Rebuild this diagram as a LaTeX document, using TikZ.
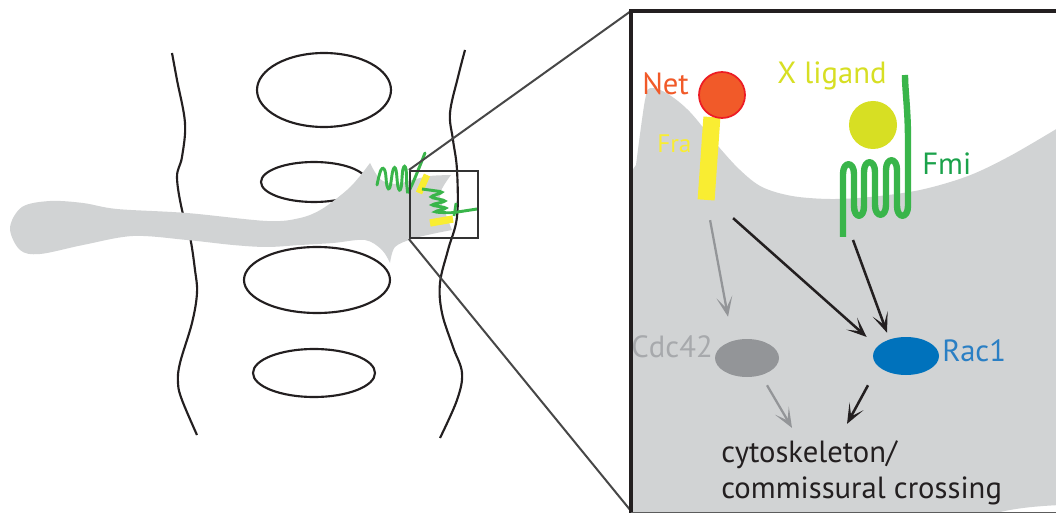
\documentclass[tikz,border=0pt]{standalone}
\usepackage{fontspec}
\setmainfont{PT Sans}
\usetikzlibrary{arrows.meta,shapes.geometric}

\definecolor{membrane}{HTML}{D1D3D4}
\definecolor{ink}{HTML}{231F20}
\definecolor{frame}{HTML}{333333}
\definecolor{netfill}{HTML}{F15A29}
\definecolor{netedge}{HTML}{ED1C24}
\definecolor{frayellow}{HTML}{F9ED32}
\definecolor{ligand}{HTML}{D7DF23}
\definecolor{fmigreen}{HTML}{39B54A}
\definecolor{fmitext}{HTML}{1BA24B}
\definecolor{cdcgray}{HTML}{939598}
\definecolor{cdctext}{HTML}{A7A9AC}
\definecolor{racblue}{HTML}{0072BC}
\definecolor{ractext}{HTML}{2A7FC4}

\begin{document}
\begin{tikzpicture}[x=0.75pt,y=-0.75pt,
  outline/.style={draw=ink,line width=1.6pt},
  label/.style={inner sep=0pt,font=\fontsize{23}{27}\selectfont},
  smalllabel/.style={inner sep=0pt,font=\fontsize{19}{22}\selectfont},
  darrow/.style={draw=ink,line width=1.9pt,-{Stealth[length=15pt,width=12pt,inset=8.5pt]}},
  garrow/.style={draw=cdcgray,line width=1.7pt,-{Stealth[length=15pt,width=12pt,inset=8.5pt]}},
  zoomline/.style={draw=frame!90,line width=1.5pt},
]
\useasboundingbox (0,0) rectangle (1056,513);
\fill[white] (0,0) rectangle (1056,513);

% ---------- overview: spinal cord outline and commissures ----------
\draw[outline] plot[smooth,tension=0.6] coordinates {(172,53) (177,80) (185,123) (182,157) (177,177) (182,210) (190,237) (195,270) (197,293) (192,323) (180,363) (178,383) (182,400) (197,435)};

\draw[outline] (324,90) ellipse[x radius=67,y radius=37];
\draw[outline] (314,182) ellipse[x radius=53,y radius=20];
\draw[outline] (317,280) ellipse[x radius=73,y radius=33];
\draw[outline] (314,373) ellipse[x radius=61,y radius=24];

% axon with growth cone
\fill[membrane] plot[smooth,tension=0.55] coordinates {(370,163) (360,176) (347,190) (322,209) (300,218) (267,221) (187,213) (117,209) (83,203) (50,201) (22,207) (10,228) (20,250) (40,254) (83,245) (133,236) (187,240) (233,245) (267,247) (300,245) (333,243) (365,240) (382,250) (390,263)}
  -- plot[smooth,tension=0.55] coordinates {(390,263) (395,247) (412,239) (432,234) (452,230)}
  -- plot[smooth,tension=0.6] coordinates {(452,230) (445,212) (440,194) (451,175)}
  -- plot[smooth,tension=0.55] coordinates {(451,175) (430,176) (412,180) (395,184) (380,179) (370,163)}
  -- cycle;

\draw[outline] plot[smooth,tension=0.6] coordinates {(465,50) (458,77) (450,113) (453,140) (457,170) (457,217) (448,250) (440,283) (442,313) (453,347) (462,373) (457,400) (440,438)};

% receptors on the growth cone
\draw[fmigreen,line width=2.2pt,line cap=round] plot[smooth,tension=0.7] coordinates {(377,185) (381,170) (385,171) (387,186) (390,187) (393,170) (396,170) (398,187) (401,188) (403,169) (406,169) (407,187) (410,189) (425,153)};
\draw[frayellow,line width=5pt] (427,175) -- (419,193);
\draw[fmigreen,line width=2.2pt,rounded corners=3pt] (422,189) -- (444,192) -- (429,197) -- (447,201) -- (430,205) -- (448,208) -- (433,212) -- (451,213) -- (477,209);
\draw[fmigreen,line width=2pt] (456,203) -- (454,216);
\draw[frayellow,line width=5.5pt] (430,223) -- (453,219);

% magnified region and its projection
\node[draw=frame,line width=1.6pt,minimum width=51pt,minimum height=50.25pt,inner sep=0pt] (box) at (444,204.5) {};
\coordinate (panelNW) at (631,11);
\coordinate (panelSW) at (631,511);
\draw[zoomline] (box.north west) -- (panelNW);
\draw[zoomline] (box.south west) -- (panelSW);

% ---------- magnified panel ----------
\fill[white] (631,11) rectangle (1060,515);
\fill[membrane] (631,515) -- (631,172) -- plot[smooth,tension=0.55] coordinates {(636,165) (645,100) (651,88) (668,94) (690,112) (718,146) (740,170) (762,187) (792,196) (830,199) (870,197) (920,190) (968,176) (1010,156) (1058,128)} -- (1060,128) -- (1060,505) .. controls (1040,506) and (1010,508) .. (990,515) -- cycle;
\draw[ink,line width=2.5pt] (1060,11) -- (631,11) -- (631,515);
\draw[frame!80,line width=1.2pt] (631,512.5) -- (1060,512.5);

% Frazzled with Netrin
\node[fill=frayellow,minimum width=12.75pt,minimum height=62.25pt,inner sep=0pt,rotate=-4] (fra) at (709,158.5) {};
\node[circle,fill=netfill,draw=netedge,line width=1.3pt,minimum size=34.5pt,inner sep=0pt] (net) at (722,95) {};
\node[smalllabel,text=frayellow,anchor=base west] (fralabel) at (657,153) {Fra};
\node[label,text=netfill,anchor=base west] (netlabel) at (642,95) {Net};

% Flamingo with its ligand
\node[circle,fill=ligand,minimum size=36pt,inner sep=0pt] (xlig) at (873,125) {};
\node[label,text=ligand,anchor=base west] (xlabel) at (777,84) {X ligand};
\draw[fmigreen,line width=4.8pt,line join=round]
  (843,237) -- (843,174) .. controls (843,161) and (854,161) .. (854,174)
  -- (854,206) .. controls (854,219) and (864,219) .. (864,206)
  -- (864,172) .. controls (864,159) and (875,159) .. (875,172)
  -- (875,205) .. controls (875,218) and (886,218) .. (886,205)
  -- (886,170) .. controls (886,157) and (897,157) .. (897,170)
  -- (897,206) .. controls (897,219) and (908,219) .. (908,206)
  -- (908,140) .. controls (908,110) and (905,90) .. (905,75);
\coordinate (fmi) at (843,235);
\node[label,text=fmitext,anchor=base west] (fmilabel) at (922,175) {Fmi};

% small GTPases
\node[ellipse,fill=cdcgray,minimum width=48pt,minimum height=28.5pt,inner sep=0pt] (cdc) at (747,358) {};
\node[label,text=cdctext,anchor=base east] (cdclabel) at (713,357) {Cdc42};
\node[ellipse,fill=racblue,minimum width=49.5pt,minimum height=28.5pt,inner sep=0pt] (rac) at (906,356) {};
\node[label,text=ractext,anchor=base west] (raclabel) at (942,361) {Rac1};

% output
\node[label,text=ink,anchor=base west] (cyto) at (721,462) {cytoskeleton/};
\node[label,text=ink,anchor=base west] (crossing) at (721,498) {commissural crossing};

% signalling arrows
\draw[garrow] ([shift={(4,20)}]fra.south) -- ([shift={(-19,-22)}]cdc.north);
\draw[darrow] ([shift={(27,18)}]fra.south) -- ([shift={(-6,-19)}]rac.west);
\draw[darrow] ([shift={(10,5)}]fmi) -- ([shift={(-19,-4)}]rac.north);
\draw[garrow] ([shift={(20,8)}]cdc.south) -- ([shift={(71,-12)}]cyto.north west);
\draw[darrow] ([shift={(-38,10)}]rac.south) -- ([shift={(126,-16)}]cyto.north west);
\end{tikzpicture}
\end{document}
